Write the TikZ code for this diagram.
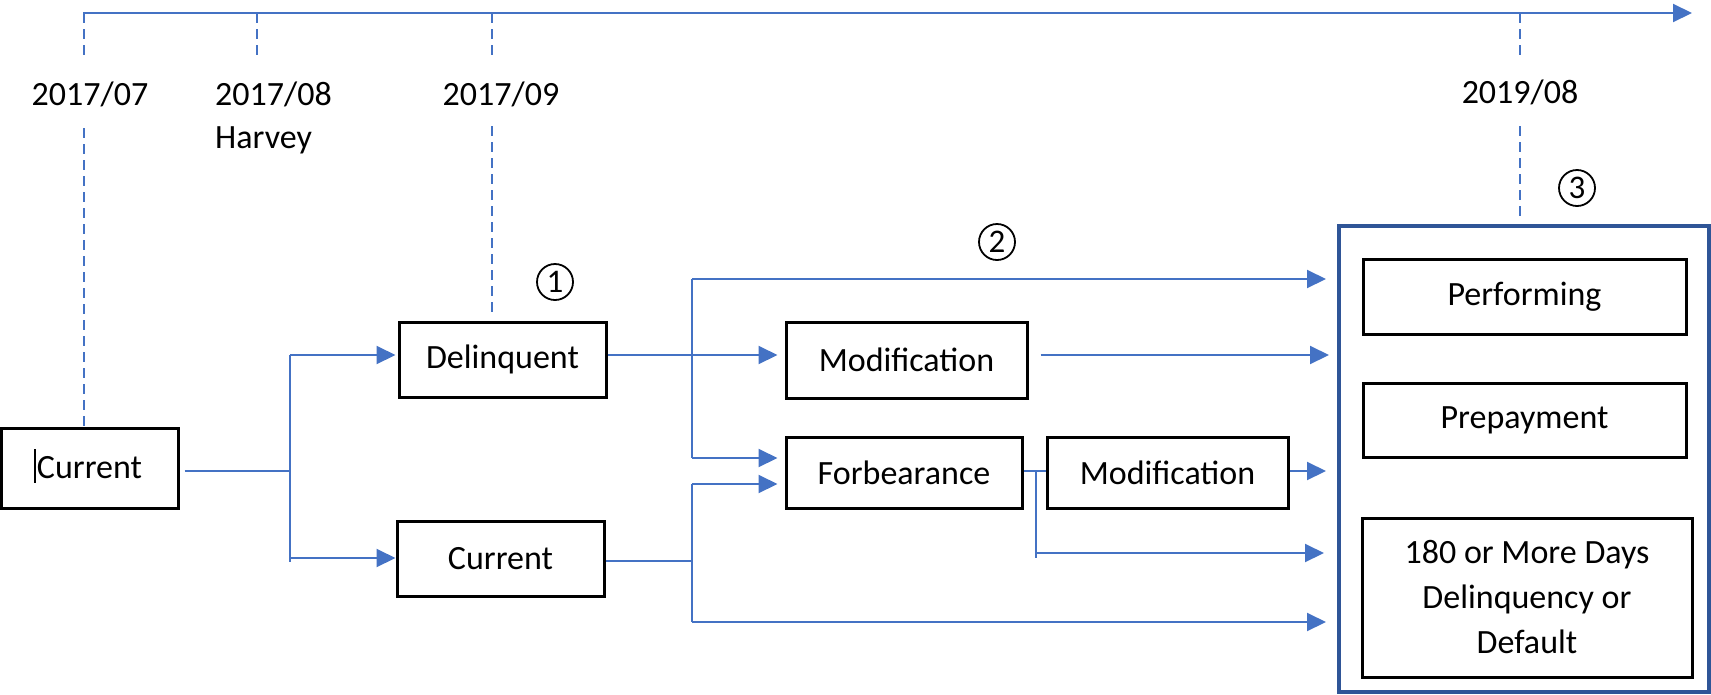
\documentclass[tikz,border=0pt]{standalone}
\usepackage{fontspec}
\setmainfont{Carlito}
\usetikzlibrary{arrows.meta}
\definecolor{linkblue}{HTML}{4472C4}
\definecolor{frameblue}{HTML}{2F5597}
\tikzset{
  statebox/.style={draw=black, line width=3pt, inner sep=0pt, font=\fontsize{34}{40}\selectfont},
  outbox/.style={draw=black, line width=3pt, inner sep=0pt, align=center, font=\fontsize{34}{45}\selectfont},
  conn/.style={draw=linkblue, line width=2pt},
  arr/.style={conn, -{Triangle[length=19pt,width=18pt]}},
  tick/.style={draw=linkblue, line width=1.3pt, dash pattern=on 10pt off 6pt},
  datelbl/.style={font=\fontsize{34}{40}\selectfont, anchor=base, inner sep=0pt},
  marker/.style={circle, draw=black, line width=1.8pt, minimum size=36pt, inner sep=0pt, font=\fontsize{33}{36}\selectfont},
}
\begin{document}
\begin{tikzpicture}[x=1pt, y=-1pt]
\useasboundingbox (0,0) rectangle (1711,694);

% time axis
\coordinate (tl0) at (83,13);
\coordinate (tl1) at (1692,13);
\draw[arr] (tl0) -- (tl1);
\coordinate (t07) at (84,13);
\coordinate (t08) at (257,13);
\coordinate (t09) at (492,13);
\coordinate (t19) at (1520,13);

% date labels
\node[datelbl] (d07) at (90,105) {2017/07};
\node[datelbl, anchor=base west] (d08) at (215,105) {2017/08};
\node[datelbl, anchor=base west] (harvey) at (215,148) {Harvey};
\node[datelbl] (d09) at (501,105) {2017/09};
\node[datelbl] (d19) at (1520,103) {2019/08};

% loan states
\node[statebox, minimum width=177pt, minimum height=80pt] (cur0) at (89.5,468) {Current};
\draw[line width=1.5pt] (35,449) -- (35,483);
\node[statebox, minimum width=207pt, minimum height=75pt] (del) at (502.5,359.5) {Delinquent};
\node[statebox, minimum width=207pt, minimum height=75pt] (cur1) at (500.5,558.5) {Current};
\node[statebox, minimum width=241pt, minimum height=76pt] (mod1) at (906.5,360) {Modification};
\node[statebox, minimum width=236pt, minimum height=71pt] (forb) at (904,472.5) {Forbearance};
\node[statebox, minimum width=241pt, minimum height=71pt] (mod2) at (1167.5,472.5) {Modification};

% outcomes
\node[draw=frameblue, line width=4pt, minimum width=370pt, minimum height=466pt, inner sep=0pt] (bigbox) at (1524,459) {};
\node[outbox, minimum width=323pt, minimum height=75pt] (perf) at (1524.5,296.5) {Performing};
\node[outbox, minimum width=323pt, minimum height=74pt] (prep) at (1524.5,420) {Prepayment};
\node[outbox, minimum width=330pt, minimum height=159pt] (dflt) at (1527,597.5) {180 or More Days\\Delinquency or\\Default};

% tick marks
\draw[tick] (t07) -- ++(0,44);
\draw[tick] (84,128) -- (cur0.north -| t07);
\draw[tick] (t08) -- ++(0,44);
\draw[tick] (t09) -- ++(0,44);
\draw[tick, shorten >=5pt] (492,126) -- (del.north -| t09);
\draw[tick] (t19) -- ++(0,42);
\draw[tick, shorten >=6pt] (1520,126) -- (bigbox.north -| t19);

% markers
\node[marker] (m1) at (555,282) {1};
\node[marker] (m2) at (997,242) {2};
\node[marker] (m3) at (1577,188) {3};

% split after the first month
\coordinate (j1) at (290,471);
\coordinate (j1t) at (290,355);
\coordinate (j1b) at (290,558);
\coordinate (j1e) at (290,562);
\draw[conn, shorten <=5pt] (cur0.east |- j1) -- (j1);
\draw[conn] (j1t) -- (j1e);
\draw[arr, shorten >=2pt] (j1t) -- (j1t -| del.west);
\draw[arr] (j1b) -- (j1b -| cur1.west);

% delinquent branch
\coordinate (j2t) at (692,279);
\coordinate (j2m) at (692,458);
\draw[arr, shorten >=7pt] (del.east |- j1t) -- (j1t -| mod1.west);
\draw[conn] (j2t) -- (j2m);
\draw[arr, shorten >=11pt] (j2t) -- (j2t -| bigbox.west);
\draw[arr, shorten >=7pt] (j2m) -- (j2m -| forb.west);

% current branch
\coordinate (j3) at (692,561);
\coordinate (j3t) at (692,484);
\coordinate (j3b) at (692,622);
\draw[conn] (cur1.east |- j3) -- (j3);
\draw[conn] (j3t) -- (j3b);
\draw[arr, shorten >=7pt] (j3t) -- (j3t -| forb.west);
\draw[arr, shorten >=11pt] (j3b) -- (j3b -| bigbox.west);

% modification exit
\draw[arr, shorten <=12pt, shorten >=8pt] (mod1.east |- j1t) -- (j1t -| bigbox.west);

% forbearance branch
\coordinate (j4) at (1036,471);
\coordinate (j4a) at (1036,553);
\coordinate (j4b) at (1036,558);
\draw[conn] (forb.east |- j4) -- (j4 -| mod2.west);
\draw[conn] (j4) -- (j4b);
\draw[arr, shorten >=13pt] (j4a) -- (j4a -| bigbox.west);
\draw[arr, shorten >=11pt] (mod2.east |- j4) -- (j4 -| bigbox.west);
\end{tikzpicture}
\end{document}
